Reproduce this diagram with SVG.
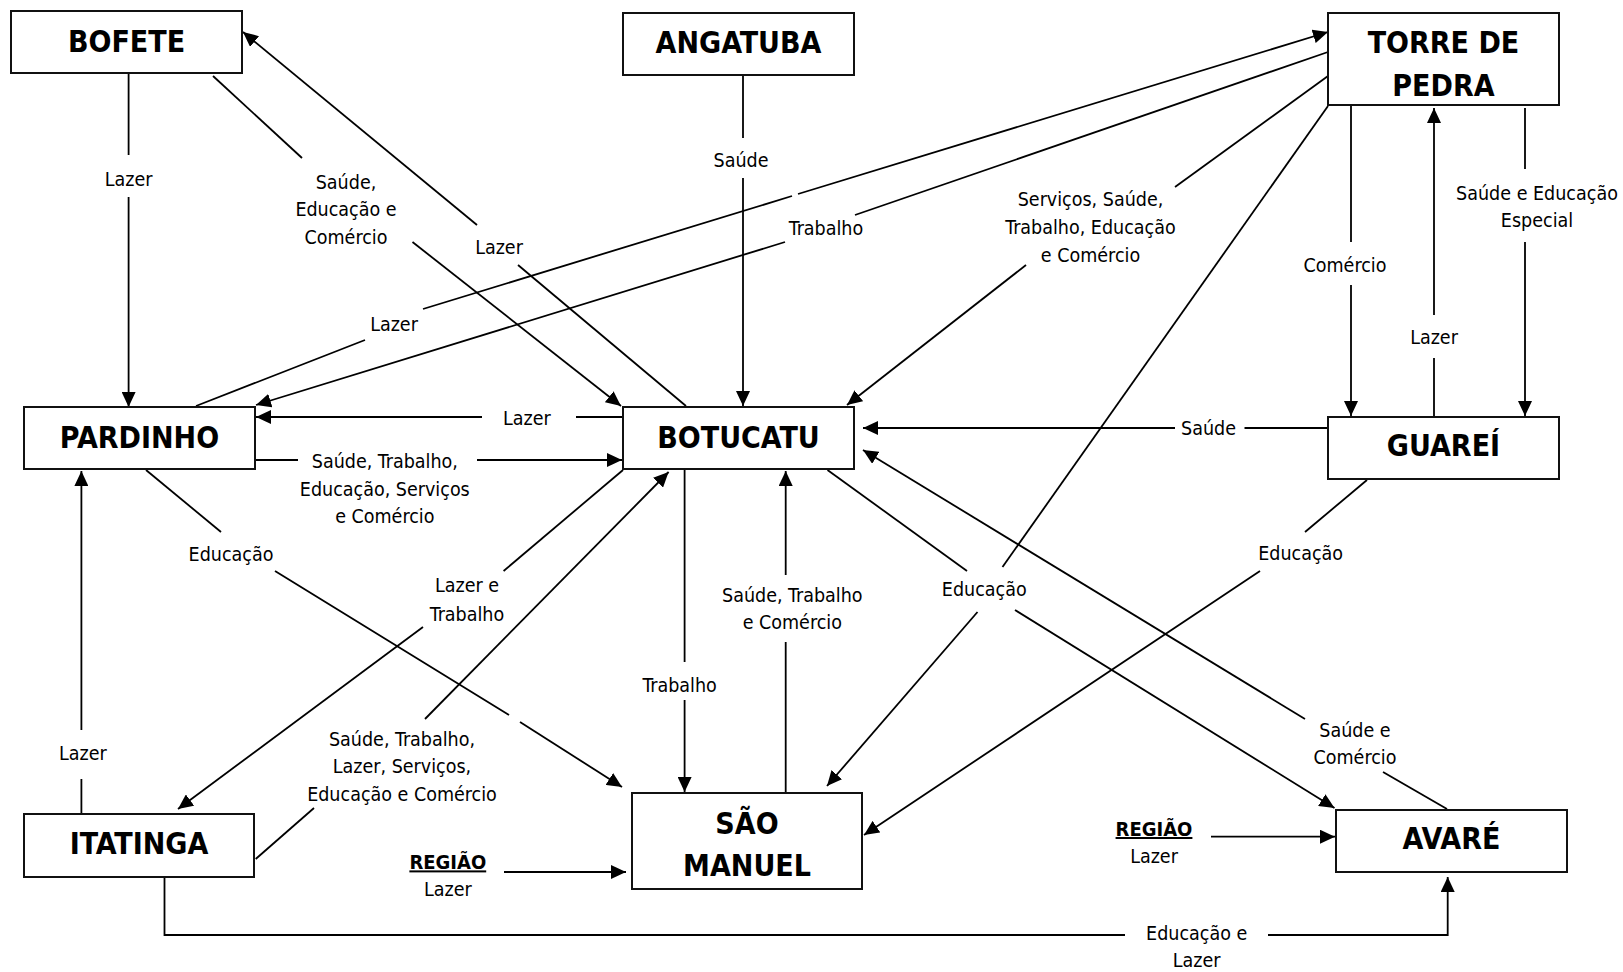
<svg xmlns="http://www.w3.org/2000/svg" width="1623" height="972" viewBox="0 0 1623 972">
<style>
.box{fill:#fff;stroke:#111;stroke-width:2}
.nt{font-family:"DejaVu Sans Condensed","DejaVu Sans",sans-serif;font-stretch:condensed;font-weight:bold;font-size:30px;fill:#000;text-anchor:middle}
.lb{font-family:"DejaVu Sans Condensed","DejaVu Sans",sans-serif;font-stretch:condensed;font-size:19.5px;fill:#000;text-anchor:middle}
.rg{font-family:"DejaVu Sans Condensed","DejaVu Sans",sans-serif;font-stretch:condensed;font-weight:bold;font-size:20px;fill:#000;text-anchor:middle;text-decoration:underline}
.ln{stroke:#000;stroke-width:1.8;fill:none}
.ar{marker-end:url(#arr)}
</style>
<defs>
<marker id="arr" markerUnits="userSpaceOnUse" markerWidth="15" markerHeight="14" refX="15" refY="7" orient="auto">
<path d="M0,0 L15,7 L0,14 Z" fill="#000"/>
</marker>
</defs>
<rect width="1623" height="972" fill="#fff"/>

<g id="connectors">
<g id="c-bofete-pardinho">
<line class="ln" x1="128.6" y1="74" x2="128.6" y2="155"/>
<line class="ln ar" x1="128.6" y1="197" x2="128.6" y2="407"/>
<text class="lb" x="128.6" y="185.7">Lazer</text>
</g>
<g id="c-bofete-botucatu">
<line class="ln" x1="213" y1="76" x2="302" y2="158"/>
<line class="ln ar" x1="412.5" y1="242" x2="621" y2="406"/>
<text class="lb" x="346" y="188.5">Saúde,</text>
<text class="lb" x="346" y="216">Educação e</text>
<text class="lb" x="346" y="243.5">Comércio</text>
</g>
<g id="c-botucatu-bofete">
<line class="ln" x1="686" y1="406" x2="518" y2="265"/>
<line class="ln ar" x1="477" y1="225" x2="243" y2="32"/>
<text class="lb" x="499" y="254">Lazer</text>
</g>
<g id="c-pardinho-torre">
<line class="ln" x1="196" y1="406" x2="365" y2="340"/>
<line class="ln" x1="423" y1="309" x2="792" y2="196"/>
<line class="ln ar" x1="798" y1="194" x2="1328" y2="32"/>
<text class="lb" x="394" y="331">Lazer</text>
</g>
<g id="c-torre-pardinho">
<line class="ln" x1="1328" y1="52" x2="855" y2="215"/>
<line class="ln ar" x1="785" y1="242" x2="256" y2="405"/>
<text class="lb" x="826" y="235">Trabalho</text>
</g>
<g id="c-angatuba-botucatu">
<line class="ln" x1="743" y1="75" x2="743" y2="138"/>
<line class="ln ar" x1="743" y1="178" x2="743" y2="406"/>
<text class="lb" x="741" y="166.7">Saúde</text>
</g>
<g id="c-torre-botucatu">
<line class="ln" x1="1328" y1="76" x2="1175" y2="187"/>
<line class="ln ar" x1="1026" y1="265" x2="847" y2="405"/>
<text class="lb" x="1090.5" y="206">Serviços, Saúde,</text>
<text class="lb" x="1090.5" y="234">Trabalho, Educação</text>
<text class="lb" x="1090.5" y="261.5">e Comércio</text>
</g>
<g id="c-torre-saomanuel">
<line class="ln" x1="1328" y1="106" x2="1002.5" y2="567"/>
<line class="ln ar" x1="977.5" y1="612" x2="827" y2="786"/>
<text class="lb" x="984.3" y="596">Educação</text>
</g>
<g id="c-botucatu-avare">
<line class="ln" x1="827.5" y1="470" x2="967" y2="571"/>
<line class="ln ar" x1="1015" y1="610" x2="1334.5" y2="808"/>
</g>
<g id="c-avare-botucatu">
<line class="ln" x1="1447" y1="809" x2="1383" y2="772"/>
<line class="ln ar" x1="1305" y1="719" x2="863" y2="450"/>
<text class="lb" x="1355" y="736.7">Saúde e</text>
<text class="lb" x="1355" y="764.3">Comércio</text>
</g>
<g id="c-guarei-botucatu">
<line class="ln" x1="1328" y1="428" x2="1244.5" y2="428"/>
<line class="ln ar" x1="1175" y1="428" x2="863" y2="428"/>
<text class="lb" x="1208.6" y="435">Saúde</text>
</g>
<g id="c-guarei-saomanuel">
<line class="ln" x1="1367" y1="480" x2="1305" y2="532"/>
<line class="ln ar" x1="1260" y1="571" x2="864" y2="835"/>
<text class="lb" x="1300.6" y="560">Educação</text>
</g>
<g id="c-torre-guarei-comercio">
<line class="ln" x1="1351" y1="106" x2="1351" y2="242"/>
<line class="ln ar" x1="1351" y1="285" x2="1351" y2="416"/>
<text class="lb" x="1345" y="271.7">Comércio</text>
</g>
<g id="c-guarei-torre">
<line class="ln" x1="1434" y1="417" x2="1434" y2="358"/>
<line class="ln ar" x1="1434" y1="315" x2="1434" y2="108"/>
<text class="lb" x="1434" y="344">Lazer</text>
</g>
<g id="c-torre-guarei-saude">
<line class="ln" x1="1525" y1="108" x2="1525" y2="169"/>
<line class="ln ar" x1="1525" y1="242" x2="1525" y2="416"/>
<text class="lb" x="1537" y="200">Saúde e Educação</text>
<text class="lb" x="1537" y="227">Especial</text>
</g>
<g id="c-botucatu-pardinho">
<line class="ln" x1="623" y1="417" x2="576" y2="417"/>
<line class="ln ar" x1="482" y1="417" x2="256" y2="417"/>
<text class="lb" x="526.8" y="425">Lazer</text>
</g>
<g id="c-pardinho-botucatu">
<line class="ln" x1="255" y1="460" x2="298" y2="460"/>
<line class="ln ar" x1="477" y1="460" x2="622" y2="460"/>
<text class="lb" x="384.8" y="468.3">Saúde, Trabalho,</text>
<text class="lb" x="384.8" y="496">Educação, Serviços</text>
<text class="lb" x="384.8" y="523.3">e Comércio</text>
</g>
<g id="c-pardinho-saomanuel">
<line class="ln" x1="146" y1="470" x2="221" y2="532"/>
<line class="ln" x1="275" y1="571" x2="509" y2="715"/>
<line class="ln ar" x1="520" y1="722" x2="622" y2="787"/>
<text class="lb" x="231" y="561">Educação</text>
</g>
<g id="c-botucatu-itatinga">
<line class="ln" x1="623" y1="470" x2="503.6" y2="571"/>
<line class="ln ar" x1="423" y1="627" x2="178" y2="809"/>
<text class="lb" x="467" y="592">Lazer e</text>
<text class="lb" x="467" y="620.5">Trabalho</text>
</g>
<g id="c-itatinga-botucatu">
<line class="ln" x1="255.7" y1="859" x2="314" y2="808"/>
<line class="ln ar" x1="425" y1="719" x2="668.6" y2="472"/>
<text class="lb" x="402" y="745.5">Saúde, Trabalho,</text>
<text class="lb" x="402" y="773">Lazer, Serviços,</text>
<text class="lb" x="402" y="800.5">Educação e Comércio</text>
</g>
<g id="c-itatinga-pardinho">
<line class="ln" x1="81.4" y1="814" x2="81.4" y2="779"/>
<line class="ln ar" x1="81.4" y1="730" x2="81.4" y2="471"/>
<text class="lb" x="82.9" y="760">Lazer</text>
</g>
<g id="c-botucatu-saomanuel">
<line class="ln" x1="684.6" y1="470" x2="684.6" y2="662"/>
<line class="ln ar" x1="684.6" y1="700" x2="684.6" y2="792"/>
<text class="lb" x="679.6" y="691.7">Trabalho</text>
</g>
<g id="c-saomanuel-botucatu">
<line class="ln" x1="785.7" y1="793" x2="785.7" y2="642"/>
<line class="ln ar" x1="785.7" y1="575" x2="785.7" y2="471"/>
<text class="lb" x="792.3" y="601.7">Saúde, Trabalho</text>
<text class="lb" x="792.3" y="629.3">e Comércio</text>
</g>
<g id="c-itatinga-avare">
<polyline class="ln" points="164.5,877 164.5,935 1125,935"/>
<polyline class="ln ar" points="1268,935 1447.7,935 1447.7,877"/>
<text class="lb" x="1196.7" y="940">Educação e</text>
<text class="lb" x="1196.7" y="967">Lazer</text>
</g>
<g id="c-regiao-saomanuel">
<line class="ln ar" x1="504" y1="872" x2="626" y2="872"/>
<text class="rg" x="447.8" y="869.4">REGIÃO</text>
<text class="lb" x="447.8" y="896">Lazer</text>
</g>
<g id="c-regiao-avare">
<line class="ln ar" x1="1211" y1="836.7" x2="1335" y2="836.7"/>
<text class="rg" x="1154" y="836">REGIÃO</text>
<text class="lb" x="1154" y="863">Lazer</text>
</g>
</g>

<g id="node-bofete"><rect class="box" x="11" y="11" width="231" height="62"/><text class="nt" x="126.5" y="51.7">BOFETE</text></g>
<g id="node-angatuba"><rect class="box" x="623" y="13" width="231" height="62"/><text class="nt" x="738.5" y="52.7">ANGATUBA</text></g>
<g id="node-torre"><rect class="box" x="1328" y="13" width="231" height="92"/><text class="nt" x="1443.5" y="53.3">TORRE DE</text><text class="nt" x="1443.5" y="95.7">PEDRA</text></g>
<g id="node-guarei"><rect class="box" x="1328" y="417" width="231" height="62"/><text class="nt" x="1443.5" y="455.7">GUAREÍ</text></g>
<g id="node-pardinho"><rect class="box" x="24" y="407" width="231" height="62"/><text class="nt" x="139.5" y="447.7">PARDINHO</text></g>
<g id="node-botucatu"><rect class="box" x="623" y="407" width="231" height="62"/><text class="nt" x="738.5" y="447.7">BOTUCATU</text></g>
<g id="node-saomanuel"><rect class="box" x="632" y="793" width="230" height="96"/><text class="nt" x="747" y="833.5">SÃO</text><text class="nt" x="747" y="875.5">MANUEL</text></g>
<g id="node-itatinga"><rect class="box" x="24" y="814" width="230" height="63"/><text class="nt" x="139" y="854">ITATINGA</text></g>
<g id="node-avare"><rect class="box" x="1336" y="810" width="231" height="62"/><text class="nt" x="1451.5" y="849.3">AVARÉ</text></g>
</svg>
